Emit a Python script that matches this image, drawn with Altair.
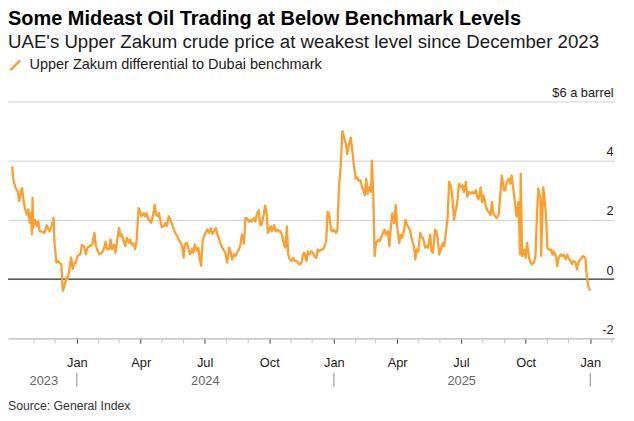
import altair as alt
import pandas as pd

TITLE = "Some Mideast Oil Trading at Below Benchmark Levels"
SUBTITLE = "UAE's Upper Zakum crude price at weakest level since December 2023"
SERIES = "Upper Zakum differential to Dubai benchmark"
SOURCE = "Source: General Index"
UNIT_LABEL = "$6 a barrel"

# days relative to 2024-01-01
day_offsets = [
    -92, -90, -87, -84, -82, -79, -78, -76, -74, -71, -69, -67, -65, -64, -63, -62, -60, -57, -55, -53,
    -49, -46, -43, -41, -39, -36, -34, -33, -32, -29, -27, -25, -22, -20, -18, -15, -13, -11, -8, -6,
    -4, -1, 1, 5, 7, 10, 13, 15, 19, 22, 25, 27, 32, 36, 39, 41, 43, 46, 48, 50,
    53, 55, 57, 60, 62, 64, 67, 69, 71, 74, 76, 78, 81, 83, 85, 88, 90, 92, 95, 97,
    99, 102, 104, 106, 109, 111, 113, 116, 117, 119, 121, 124, 126, 128, 131, 133, 136, 138, 140, 143,
    145, 147, 150, 152, 154, 157, 159, 161, 164, 166, 168, 171, 173, 175, 177, 179, 181, 184, 186, 188,
    191, 193, 195, 198, 200, 203, 205, 207, 210, 212, 214, 217, 219, 221, 224, 226, 228, 231, 233, 235,
    238, 240, 242, 245, 247, 249, 252, 254, 256, 259, 261, 263, 266, 268, 270, 272, 274, 276, 278, 281,
    283, 285, 288, 290, 292, 295, 297, 299, 301, 303, 306, 308, 310, 313, 315, 317, 320, 322, 324, 327,
    329, 331, 334, 336, 338, 341, 343, 345, 348, 350, 352, 355, 357, 359, 362, 364, 366, 369, 371, 373,
    376, 378, 380, 383, 385, 387, 390, 392, 394, 397, 399, 401, 404, 406, 408, 410, 412, 414, 416, 419,
    420, 422, 424, 426, 429, 431, 433, 436, 438, 440, 443, 445, 447, 449, 452, 454, 456, 459, 461, 463,
    466, 468, 470, 473, 475, 477, 480, 482, 484, 486, 489, 491, 493, 496, 498, 500, 503, 505, 507, 510,
    512, 514, 516, 519, 521, 523, 526, 528, 530, 533, 535, 537, 540, 542, 544, 547, 549, 551, 554, 556,
    558, 561, 563, 565, 568, 570, 572, 575, 577, 579, 582, 584, 586, 589, 591, 593, 596, 598, 601, 603,
    605, 608, 610, 612, 615, 617, 619, 622, 624, 626, 629, 631, 632, 634, 637, 639, 641, 644, 646, 648,
    651, 653, 655, 657, 660, 661, 664, 666, 668, 670, 672, 675, 677, 679, 682, 684, 686, 689, 691, 693,
    696, 698, 700, 703, 705, 707, 710, 712, 714, 717, 719, 721, 724, 726, 728, 730,
]
values = [
    3.77, 3.30, 3.07, 2.96, 2.63, 3.02, 3.07, 2.68, 2.40, 2.18, 2.35, 1.90, 2.23, 1.51, 2.74, 1.73, 2.01, 1.79, 1.96, 1.62,
    1.60, 1.56, 1.82, 1.71, 1.62, 1.79, 1.96, 2.07, 1.28, 0.56, 0.61, 0.56, 0.50, -0.39, -0.28, 0.06, 0.00, 0.28, 0.73, 0.34,
    0.50, 0.61, 0.78, 0.84, 1.15, 1.12, 0.84, 1.06, 1.12, 1.17, 1.56, 1.12, 0.84, 0.89, 1.06, 1.26, 1.01, 1.01, 1.34, 1.01,
    1.17, 0.89, 1.23, 1.73, 1.45, 1.51, 1.26, 1.12, 1.40, 1.23, 1.34, 1.17, 1.20, 1.01, 1.28, 2.40, 2.29, 2.12, 2.23, 2.12,
    2.23, 2.01, 1.96, 1.90, 2.23, 2.51, 2.18, 2.12, 2.23, 1.96, 1.75, 1.79, 1.90, 1.79, 2.12, 2.01, 1.84, 1.68, 1.56, 1.45,
    1.34, 1.26, 1.12, 0.73, 1.17, 1.23, 1.01, 0.84, 1.01, 0.89, 1.17, 0.95, 1.06, 0.67, 0.45, 1.28, 1.45, 1.60, 1.68, 1.56,
    1.71, 1.53, 1.60, 1.73, 1.51, 1.34, 1.17, 1.06, 0.95, 0.84, 0.56, 1.06, 0.89, 0.67, 0.84, 0.78, 0.89, 1.01, 1.17, 1.50,
    1.20, 2.06, 2.06, 1.94, 2.00, 1.94, 2.06, 1.94, 2.17, 2.33, 1.83, 1.83, 2.17, 2.48, 2.28, 1.56, 1.67, 1.78, 1.61, 1.83,
    1.61, 1.67, 1.61, 1.61, 1.50, 1.17, 1.06, 1.78, 0.83, 0.67, 0.61, 0.72, 0.61, 0.61, 0.56, 0.50, 0.56, 0.83, 0.89, 0.61,
    0.94, 0.83, 0.94, 0.89, 0.78, 0.72, 1.00, 0.94, 1.00, 1.00, 1.06, 1.28, 2.28, 2.22, 1.67, 1.61, 1.67, 1.56, 1.67, 3.00,
    3.94, 5.00, 4.83, 4.56, 4.22, 4.50, 4.78, 4.39, 3.94, 3.39, 3.44, 3.33, 3.33, 3.11, 3.00, 2.83, 3.39, 2.89, 3.11, 2.94,
    4.00, 2.89, 0.78, 1.22, 1.33, 1.28, 1.39, 1.56, 1.67, 1.50, 1.61, 1.11, 1.72, 2.22, 1.89, 2.50, 1.78, 1.22, 1.50, 1.39,
    1.67, 2.00, 1.83, 1.72, 1.61, 1.33, 1.11, 0.67, 1.00, 0.94, 1.56, 1.42, 1.39, 1.06, 1.11, 1.06, 1.50, 0.94, 0.89, 1.67,
    1.61, 1.33, 0.83, 1.06, 1.22, 1.11, 1.67, 2.11, 3.28, 3.11, 2.67, 2.00, 2.39, 2.67, 3.22, 3.11, 3.17, 2.94, 3.28, 2.78,
    2.94, 2.89, 2.94, 2.89, 3.00, 2.78, 2.70, 3.10, 2.60, 2.83, 2.50, 2.33, 2.28, 2.17, 2.61, 2.22, 2.11, 2.06, 2.22, 2.89,
    3.50, 3.00, 3.00, 3.28, 3.39, 3.22, 3.50, 2.94, 2.56, 2.11, 2.61, 0.83, 3.56, 0.78, 1.00, 0.72, 1.22, 0.72, 0.56, 0.50,
    0.56, 0.78, 2.11, 3.06, 2.72, 0.78, 3.11, 2.72, 2.11, 1.06, 1.00, 1.00, 0.83, 0.94, 0.78, 0.44, 0.72, 0.83, 0.78, 0.83,
    0.67, 0.83, 0.72, 0.61, 0.50, 0.61, 0.56, 0.33, 0.56, 0.67, 0.72, 0.78, 0.72, 0.11, -0.22, -0.36,
]

quarter_ticks = ["2024-01-01", "2024-04-01", "2024-07-01", "2024-10-01", "2025-01-01",
                 "2025-04-01", "2025-07-01", "2025-10-01", "2026-01-01"]
minor_ticks = ["2023-11-01", "2023-12-01", "2024-02-01", "2024-03-01", "2024-05-01", "2024-06-01",
               "2024-08-01", "2024-09-01", "2024-11-01", "2024-12-01", "2025-02-01", "2025-03-01",
               "2025-05-01", "2025-06-01", "2025-08-01", "2025-09-01", "2025-11-01", "2025-12-01",
               "2026-02-01"]
year_labels = ["2023", "2024", "2025"]
year_label_dates = ["2023-11-15", "2024-07-02", "2025-07-02"]
year_breaks = ["2024-01-01", "2025-01-01", "2026-01-01"]
y_ticks = [-2, 0, 2, 4, 6]
x_domain = ["2023-09-25", "2026-02-04"]

ORANGE = "#fc9f2e"
FONT = "Liberation Sans"


def ms(s):
    return int(pd.Timestamp(s, tz="UTC").value // 1_000_000)


base_day = pd.Timestamp("2024-01-01")
df = pd.DataFrame({
    "date": [(base_day + pd.Timedelta(days=d)).strftime("%Y-%m-%d") for d in day_offsets],
    "value": values,
    "series": [SERIES] * len(values),
})

x_scale = alt.Scale(type="utc", domain=[ms(x_domain[0]), ms(x_domain[1])])
y_scale = alt.Scale(domain=[-2, 6], nice=False, zero=False)

x_axis = alt.Axis(
    values=[ms(t) for t in quarter_ticks],
    labelExpr="utcFormat(datum.value, '%b')",
    grid=False,
    domainColor="#c8c8c8",
    domainWidth=1.5,
    tickColor="#444444",
    tickSize=5,
    tickWidth=1,
    labelFontSize=13,
    labelColor="#1a1a1a",
    labelFont=FONT,
    labelBaseline="alphabetic",
    labelPadding=23,
    labelFlush=False,
    labelOverlap=False,
    title=None,
)

y_axis = alt.Axis(
    orient="right",
    values=y_ticks,
    grid=True,
    gridColor="#d0d0d0",
    gridWidth=1,
    domain=False,
    ticks=False,
    labelAlign="right",
    labelBaseline="alphabetic",
    labelOffset=-5,
    labelPadding=-1,
    labelExpr=f"datum.value == 6 ? '{UNIT_LABEL}' : '' + datum.value",
    labelFontSize=13,
    labelColor="#1a1a1a",
    labelFont=FONT,
    title=None,
)

line = alt.Chart(df).mark_line(strokeWidth=2.3, strokeJoin="round", strokeCap="round").encode(
    x=alt.X("date:T", scale=x_scale, axis=x_axis),
    y=alt.Y("value:Q", scale=y_scale, axis=y_axis),
    color=alt.Color(
        "series:N",
        scale=alt.Scale(range=[ORANGE]),
        legend=alt.Legend(
            orient="none",
            legendX=0,
            legendY=-44,
            title=None,
            padding=0,
            symbolType="M-1,1L1,-1",
            symbolSize=100,
            symbolStrokeWidth=2.6,
            labelFont=FONT,
            labelFontSize=14.7,
            labelColor="#1a1a1a",
            labelOffset=7,
            labelLimit=0,
        ),
    ),
)

zero_rule = alt.Chart(pd.DataFrame({"value": [0]})).mark_rule(color="#333333", strokeWidth=1.5).encode(
    y=alt.Y("value:Q", scale=y_scale, axis=y_axis)
)

minor = alt.Chart(pd.DataFrame({"date": minor_ticks})).mark_rule(color="#c4c4c4", strokeWidth=1).encode(
    x=alt.X("date:T", scale=x_scale), y=alt.value(240), y2=alt.value(245)
)

years = alt.Chart(pd.DataFrame({"date": year_label_dates, "label": year_labels})).mark_text(
    font=FONT, fontSize=13, color="#666666", align="center", baseline="alphabetic"
).encode(x=alt.X("date:T", scale=x_scale), y=alt.value(287), text="label:N")

separators = alt.Chart(pd.DataFrame({"date": year_breaks})).mark_rule(color="#8a8a8a", strokeWidth=1).encode(
    x=alt.X("date:T", scale=x_scale), y=alt.value(275), y2=alt.value(289)
)


def text_layer(txt, x, y, size, weight="normal", color="#000000"):
    return alt.Chart(pd.DataFrame({"t": [txt]})).mark_text(
        align="left", baseline="alphabetic", font=FONT, fontSize=size, fontWeight=weight, color=color
    ).encode(x=alt.value(x), y=alt.value(y), text="t:N")


title = text_layer(TITLE, 0, -77, 20.2, "bold", "#000000")
subtitle = text_layer(SUBTITLE, 0, -54, 18.9, "normal", "#1a1a1a")
source = text_layer(SOURCE, 0, 313, 12.4, "normal", "#333333")

chart = alt.layer(zero_rule, minor, line, years, separators, title, subtitle, source).properties(
    width=614,
    height=240,
    autosize="none",
    padding={"left": 0, "top": 92, "right": 12, "bottom": 76},
).configure_view(stroke=None)

chart.save("out.html", embed_options={"renderer": "svg", "actions": False})
